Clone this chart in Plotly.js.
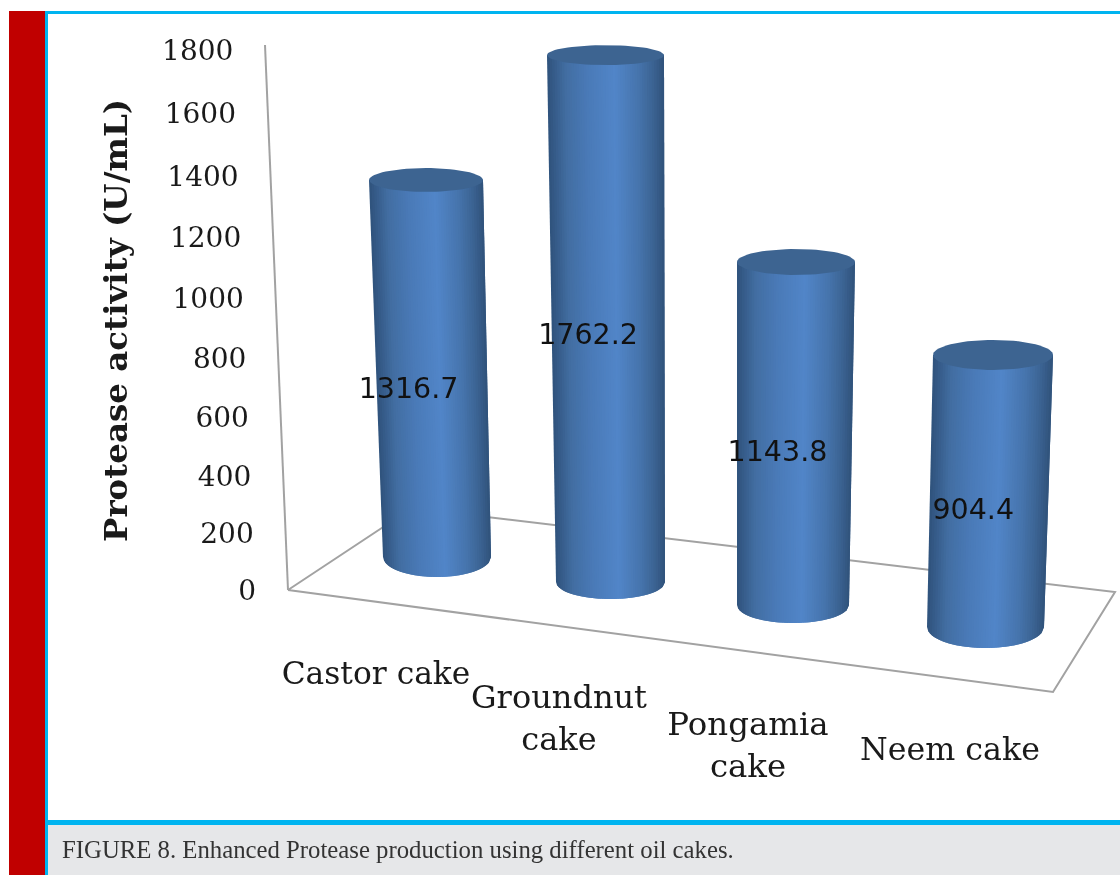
<!DOCTYPE html>
<html><head><meta charset="utf-8">
<script src="https://cdn.plot.ly/plotly-3.0.1.min.js"></script>
<style>html,body{margin:0;padding:0;background:#fff}#c{width:1120px;height:875px;filter:blur(0.6px)}</style>
</head><body><div id="c"></div>
<script>
// ---- data ----
const categories = ["Castor cake","Groundnut<br>cake","Pongamia<br>cake","Neem cake"];
const activity = [1316.7,1762.2,1143.8,904.4];
const tickValues = [0,200,400,600,800,1000,1200,1400,1600,1800];
const yTitle = "Protease activity (U/mL)";
const caption = "FIGURE 8. Enhanced Protease production using different oil cakes.";

// ---- layout of the perspective scene (pixels) ----
const baseX = [437,610.5,793,985.5];
const baseY = [557,582,605,627];
const pxPerUnit = [0.2863,0.2990,0.2999,0.3008];
const lean = [0.0292,0.0095,-0.0087,-0.0276];
const rBottom = [54,54.5,56,58.5];
const rTop = [57,58.5,59,60];
const ryBottom = [20,17,18,21];
const ryTop = [12,10,13,15];
const catLabelX = [376,559,748,950];
const catLabelY = [676,721,748,752];
const catLabelSize = [31.3,32,32.4,31.7];
const labelDx = [-23,-20,-17,-16];
const labelDy = [22,18,20,21];

const W=1120,H=875,Y0=590,S=0.3,STRIPS=48;
const ay = py => (Y0-py)/S;
const stops=[[0,[47,82,124]],[0.06,[54,92,138]],[0.16,[66,110,162]],[0.35,[74,122,184]],[0.58,[81,133,200]],[0.78,[70,116,172]],[0.9,[60,100,148]],[1,[48,82,122]]];
function shade(t){
  for(let i=1;i<stops.length;i++){ if(t<=stops[i][0]){
    const a=stops[i-1],b=stops[i],k=(t-a[0])/(b[0]-a[0]);
    return "rgb("+a[1].map((c,j)=>Math.round(c+(b[1][j]-c)*k)).join(",")+")";
  }}
  return "rgb(48,82,122)";
}
const traces=[];
const lineColor="#a2a2a2";
// floor and value axis
const fl=[[288,590],[412,508],[1115,592],[1053,692],[288,590]];
traces.push({x:fl.map(p=>p[0]),y:fl.map(p=>ay(p[1])),mode:"lines",line:{color:lineColor,width:2},hoverinfo:"skip"});
traces.push({x:[288,265],y:[ay(590),ay(45)],mode:"lines",line:{color:lineColor,width:2},hoverinfo:"skip"});
// cylinders: first the full silhouette in a mid tone, then overlapping shaded strips
const e=u=>Math.sqrt(Math.max(0,1-u*u));
activity.forEach((v,i)=>{
  const h=v*pxPerUnit[i], tx=baseX[i]-lean[i]*h, ty=baseY[i]-h;
  for(let s=0;s<STRIPS;s++){
    const end=Math.min(STRIPS,s+2), col=shade((s+0.5)/STRIPS), xs=[], ys=[];
    const t0=s/STRIPS, t1=end/STRIPS;
    xs.push(tx+rTop[i]*(2*t0-1)); ys.push(ty);
    xs.push(tx+rTop[i]*(2*t1-1)); ys.push(ty);
    for(let k=end*2;k>=s*2;k--){
      const u=k/STRIPS-1;
      xs.push(baseX[i]+rBottom[i]*u); ys.push(baseY[i]+ryBottom[i]*e(u));
    }
    traces.push({x:xs.concat(xs[0]),y:ys.concat(ys[0]).map(ay),mode:"lines",fill:"toself",fillcolor:col,line:{width:0},hoverinfo:"skip"});
  }
  const cx=[],cy=[];
  for(let a=0;a<=72;a++){const th=a/72*2*Math.PI;cx.push(tx+rTop[i]*Math.cos(th));cy.push(ay(ty+ryTop[i]*Math.sin(th)));}
  traces.push({x:cx,y:cy,mode:"lines",fill:"toself",fillcolor:"#3d6491",line:{width:0},hoverinfo:"skip"});
});
// value labels
traces.push({x:activity.map((v,i)=>baseX[i]-lean[i]*v*pxPerUnit[i]/2+labelDx[i]),
  y:activity.map((v,i)=>ay(baseY[i]-v*pxPerUnit[i]/2+labelDy[i])),
  text:activity.map(v=>v.toFixed(1)),mode:"text",textposition:"middle center",
  textfont:{family:"DejaVu Sans",size:28.5,color:"#111"},hoverinfo:"skip"});
// value tick labels, following the slanted axis
const tickPx=v=>593-(0.282*v+1e-5*v*v);
traces.push({x:tickValues.map(v=>288-0.0422*(590-tickPx(v))-32),y:tickValues.map(v=>ay(tickPx(v))),
  text:tickValues.map(String),mode:"text",textposition:"middle left",
  textfont:{family:"DejaVu Serif",size:28,color:"#1a1a1a"},hoverinfo:"skip"});
// category labels
traces.push({x:catLabelX,y:catLabelY.map(ay),text:categories,mode:"text",textposition:"middle center",
  textfont:{family:"DejaVu Serif",size:catLabelSize,color:"#1a1a1a"},hoverinfo:"skip"});

const layout={width:W,height:H,margin:{l:0,r:0,t:0,b:0},showlegend:false,paper_bgcolor:"#fff",plot_bgcolor:"#fff",
  xaxis:{range:[0,W],visible:false,fixedrange:true},
  yaxis:{range:[ay(H),ay(0)],visible:false,fixedrange:true},
  shapes:[
    {type:"rect",xref:"x",yref:"y",x0:9,x1:45,y0:ay(11),y1:ay(H),fillcolor:"#c00000",line:{width:0},layer:"below"},
    {type:"rect",xref:"x",yref:"y",x0:45,x1:48,y0:ay(11),y1:ay(H),fillcolor:"#00b4f0",line:{width:0},layer:"below"},
    {type:"rect",xref:"x",yref:"y",x0:45,x1:W,y0:ay(11),y1:ay(14),fillcolor:"#00b4f0",line:{width:0},layer:"below"},
    {type:"rect",xref:"x",yref:"y",x0:48,x1:W,y0:ay(820),y1:ay(825),fillcolor:"#00b4f0",line:{width:0},layer:"below"},
    {type:"rect",xref:"x",yref:"y",x0:48,x1:W,y0:ay(825),y1:ay(H),fillcolor:"#e6e7e9",line:{width:0},layer:"below"}
  ],
  annotations:[
    {text:"<b>"+yTitle+"</b>",xref:"x",yref:"y",x:115,y:ay(321),textangle:-90,showarrow:false,
     font:{family:"DejaVu Serif",size:32.5,color:"#1a1a1a"}},
    {text:caption,xref:"x",yref:"y",x:60,y:ay(849),xanchor:"left",showarrow:false,
     font:{family:"Liberation Serif",size:24.75,color:"#333"}}
  ]};
Plotly.newPlot("c",traces,layout,{staticPlot:true,displayModeBar:false});
</script></body></html>
